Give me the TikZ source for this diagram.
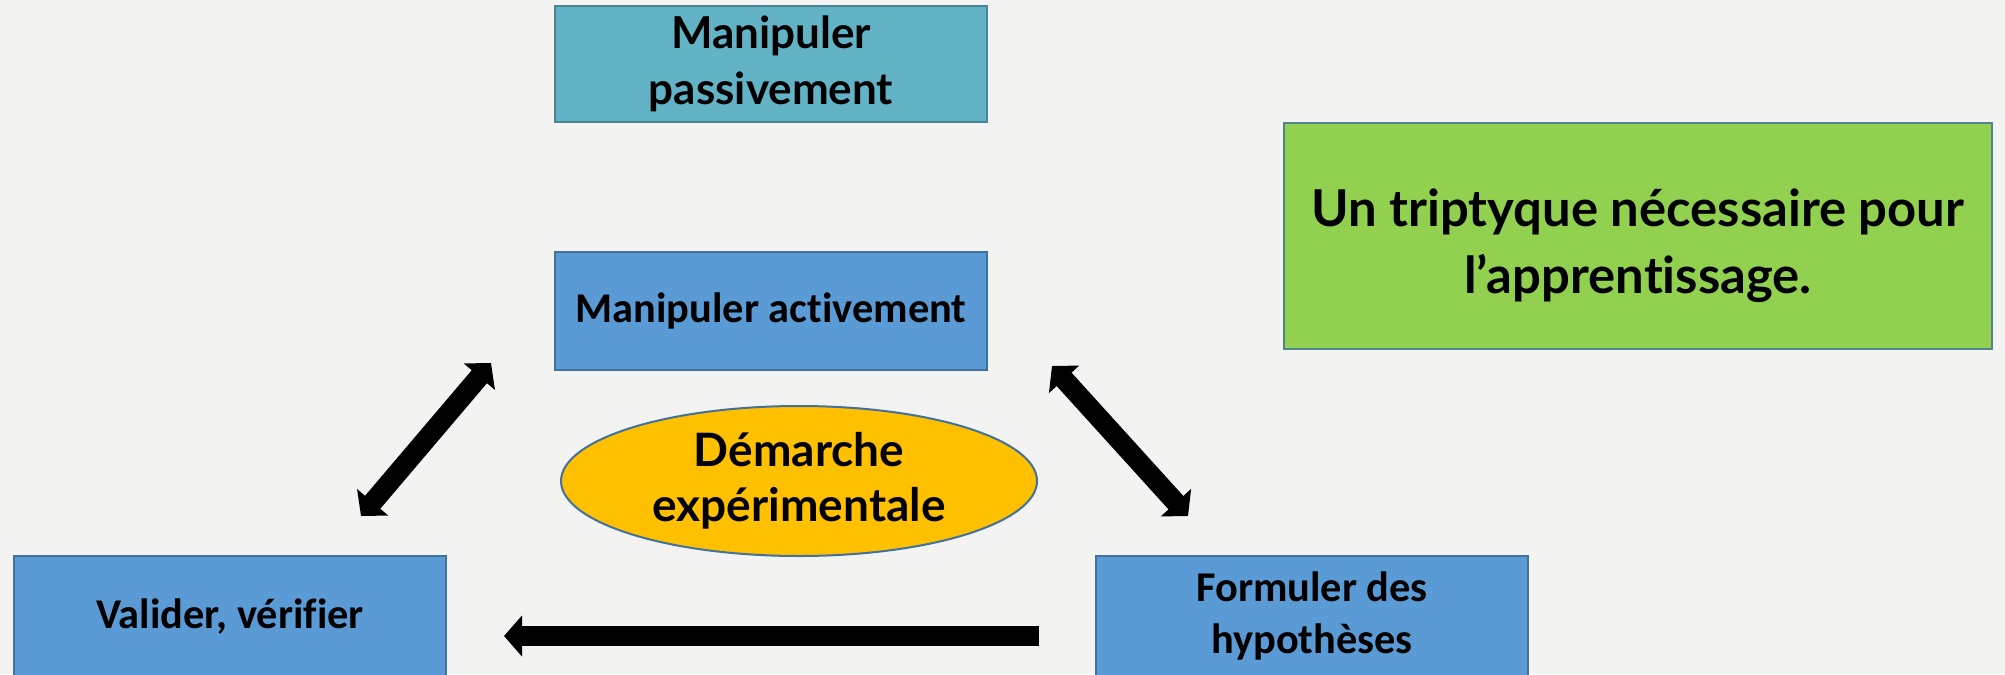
\documentclass[tikz,border=0pt]{standalone}
\usepackage{fontspec}
\setmainfont{Carlito}[RawFeature=-liga]
\newfontfamily\gill{Lato}[RawFeature=-liga]
\usetikzlibrary{arrows.meta,shapes.geometric}
\definecolor{bg}{HTML}{F3F3F1}
\definecolor{boxblue}{HTML}{5B9BD5}
\definecolor{boxblueline}{HTML}{41719C}
\definecolor{teal}{HTML}{63B3C7}
\definecolor{tealline}{HTML}{4A8396}
\definecolor{lgreen}{HTML}{92D050}
\definecolor{ell}{HTML}{FFC000}
\tikzset{
  bluebox/.style={draw=boxblueline, line width=1pt, fill=boxblue, minimum width=216pt, minimum height=59pt, inner sep=0pt, align=center, font=\bfseries\fontsize{21.2}{26}\selectfont},
  tealbox/.style={draw=tealline, line width=1pt, fill=teal, minimum width=216pt, minimum height=58pt, inner sep=0pt, align=center, font=\gill\bfseries\fontsize{22}{28}\selectfont},
  greenbox/.style={draw=boxblueline!80!lgreen, line width=1pt, fill=lgreen, minimum width=354pt, minimum height=113pt, inner sep=0pt, align=center, font=\gill\bfseries\fontsize{25.4}{33.5}\selectfont},
  ellbox/.style={ellipse, draw=boxblueline, line width=1pt, fill=ell, minimum width=238pt, minimum height=75pt, inner sep=0pt, align=center, font=\gill\bfseries\fontsize{23}{27.5}\selectfont},
  bigarrow/.style={line width=10pt, {Triangle[length=9pt,width=20pt]}-{Triangle[length=9pt,width=20pt]}},
  onearrow/.style={line width=10pt, -{Triangle[length=9pt,width=20pt]}}
}
\begin{document}
\begin{tikzpicture}[x=0.5pt,y=-0.5pt]
\fill[bg] (0,0) rectangle (2005,674);
\useasboundingbox (0,0) rectangle (2005,674);
\begin{scope}
\clip (0,0) rectangle (2005,674);
\node[tealbox] (mp) at (771,64) {Manipuler\\passivement};
\node[bluebox] (ma) at (771,311) {Manipuler activement};
\node[greenbox] (tri) at (1638,236) {\raisebox{-5.5pt}[\height][\depth]{\begin{tabular}{@{}c@{}}Un triptyque nécessaire pour\\l’apprentissage.\end{tabular}}};
\node[ellbox] (dem) at (799,481) {Démarche\\expérimentale};
\node[bluebox, minimum height=60pt] (val) at (230,616) {Valider, vérifier};
\node[bluebox, minimum height=60pt] (form) at (1312,616) {Formuler des\\hypothèses};
\coordinate (a1) at (361,516);
\coordinate (a2) at (491,363);
\coordinate (b1) at (1052,366);
\coordinate (b2) at (1188,516);
\coordinate (c1) at (1039,636);
\coordinate (c2) at (504,636);
\draw[bigarrow] (a1) -- (a2);
\draw[bigarrow] (b1) -- (b2);
\draw[onearrow] (c1) -- (c2);
\end{scope}
\end{tikzpicture}
\end{document}
